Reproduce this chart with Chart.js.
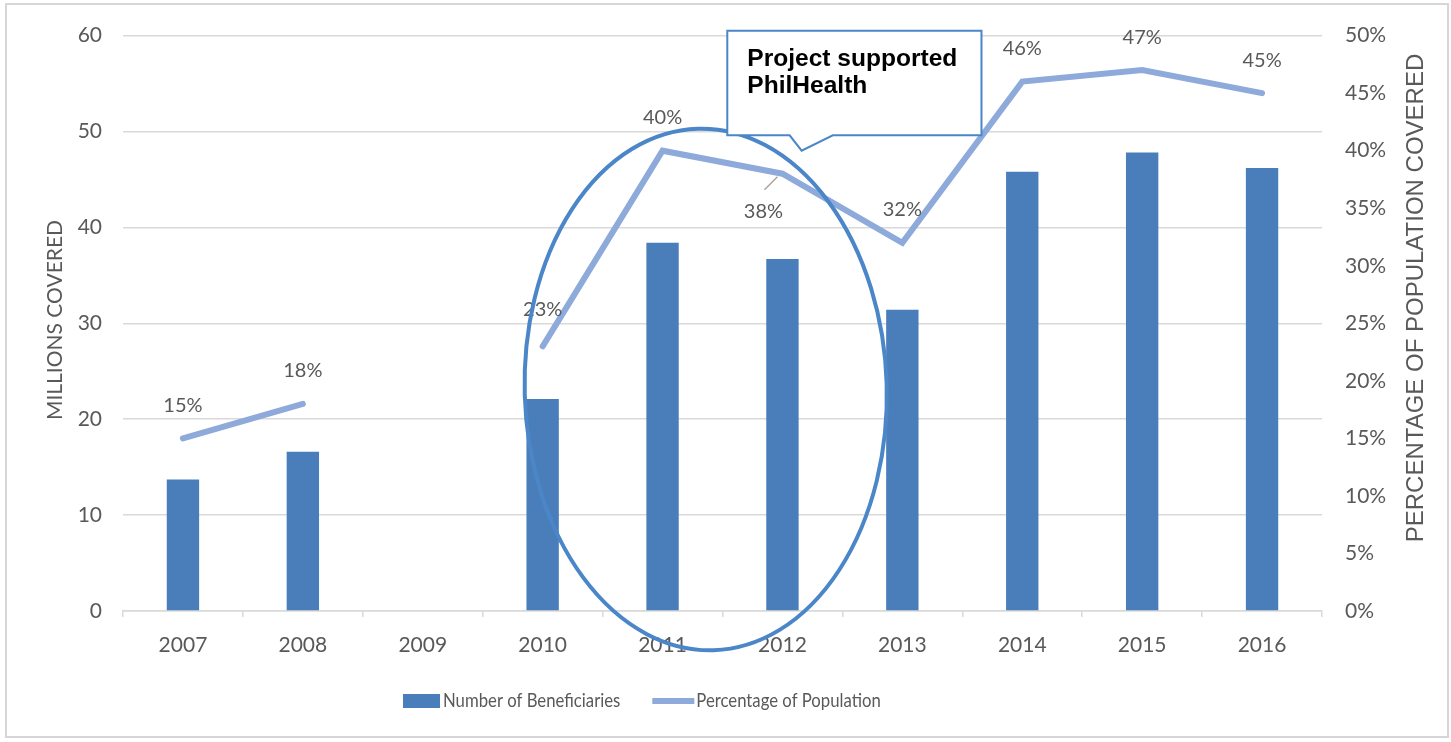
<!DOCTYPE html>
<html>
<head>
<meta charset="utf-8">
<title>PhilHealth coverage</title>
<script src="https://cdn.jsdelivr.net/npm/chart.js@4.4.1/dist/chart.umd.min.js"></script>
<style>
    body { margin: 0; background: #fff; }
    #wrap { width: 1451px; height: 742px; }
</style>
</head>
<body>
<div id="wrap"><canvas id="coverage-chart" width="1451" height="742"></canvas></div>
<script>
// Chart data
const years = ['2007', '2008', '2009', '2010', '2011', '2012', '2013', '2014', '2015', '2016'];
const beneficiaries = [13.7, 16.6, null, 22.1, 38.4, 36.7, 31.4, 45.8, 47.8, 46.2];
const populationPct = [15, 18, null, 23, 40, 38, 32, 46, 47, 45];
const leftTicks = { min: 0, max: 60, step: 10 };
const rightTicks = { min: 0, max: 50, step: 5 };
const seriesNames = ['Number of Beneficiaries', 'Percentage of Population'];
const leftTitle = 'MILLIONS COVERED';
const rightTitle = 'PERCENTAGE OF POPULATION COVERED';
const calloutLines = ['Project supported', 'PhilHealth'];

const BAR_COLOR = '#4a7ebb';
const LINE_COLOR = '#8eaadb';
const MARK_COLOR = '#4a86c8';
const TEXT_COLOR = '#595959';
const GRID_COLOR = '#d9d9d9';

Chart.defaults.font.family = 'Lato';

// Draws the data labels, the highlight ellipse, the callout, titles and legend
const overlayPlugin = {
    id: 'overlay',
    afterDatasetsDraw: function(chart) {
        const ctx = chart.ctx;
        const x = chart.scales.x;
        const y = chart.scales.y;
        const lineMeta = chart.getDatasetMeta(1);

        ctx.save();

        // percentage labels above the line points (38% sits below with a leader)
        ctx.font = '20px Lato';
        ctx.fillStyle = TEXT_COLOR;
        ctx.textAlign = 'center';
        ctx.textBaseline = 'middle';
        lineMeta.data.forEach(function(pt, i) {
            const v = populationPct[i];
            if (v === null || v === undefined) return;
            let dy = -33;
            if (i === 3) dy = -37;
            if (i === 5) {
                dy = 38;
                ctx.strokeStyle = '#b0a59a';
                ctx.lineWidth = 1.5;
                ctx.beginPath();
                ctx.moveTo(pt.x - 18, pt.y + 16);
                ctx.lineTo(pt.x - 5, pt.y + 3);
                ctx.stroke();
                ctx.fillText(v + '%', pt.x - 19, pt.y + dy);
                return;
            }
            ctx.fillText(v + '%', pt.x, pt.y + dy);
        });

        // ellipse around 2010-2012
        const cx = x.getPixelForValue(4.36);
        const cy = y.getPixelForValue(23.1);
        const rx = (x.getPixelForValue(1) - x.getPixelForValue(0)) * 1.51;
        const ry = y.getPixelForValue(0) - y.getPixelForValue(27.2);
        ctx.strokeStyle = MARK_COLOR;
        ctx.lineWidth = 4;
        ctx.beginPath();
        ctx.ellipse(cx, cy, rx, ry, -0.03, 0, Math.PI * 2);
        ctx.stroke();

        // callout box
        const bl = x.getPixelForValue(4.54), br = x.getPixelForValue(6.66);
        const bt = y.getPixelForValue(60.5), bb = y.getPixelForValue(49.6);
        const tipX = x.getPixelForValue(5.16), tipY = y.getPixelForValue(48.0);
        const baseL = x.getPixelForValue(5.06), baseR = x.getPixelForValue(5.42);
        ctx.beginPath();
        ctx.moveTo(bl, bt);
        ctx.lineTo(br, bt);
        ctx.lineTo(br, bb);
        ctx.lineTo(baseR, bb);
        ctx.lineTo(tipX, tipY);
        ctx.lineTo(baseL, bb);
        ctx.lineTo(bl, bb);
        ctx.closePath();
        ctx.fillStyle = '#fff';
        ctx.fill();
        ctx.strokeStyle = MARK_COLOR;
        ctx.lineWidth = 2;
        ctx.stroke();

        ctx.fillStyle = '#000';
        ctx.textAlign = 'left';
        ctx.textBaseline = 'alphabetic';
        ctx.font = 'bold 23px "Liberation Sans"';
        const squeeze = 210 / ctx.measureText(calloutLines[0]).width;
        ctx.save();
        ctx.translate(bl + 20, bt + 35);
        ctx.scale(squeeze, 1);
        ctx.fillText(calloutLines[0], 0, 0);
        ctx.fillText(calloutLines[1], 0, 27);
        ctx.restore();

        // axis titles
        ctx.fillStyle = TEXT_COLOR;
        ctx.textAlign = 'center';
        ctx.textBaseline = 'middle';
        ctx.save();
        ctx.translate(55, 320);
        ctx.rotate(-Math.PI / 2);
        ctx.font = '21px Lato';
        ctx.fillText(leftTitle, 0, 0);
        ctx.restore();

        ctx.save();
        ctx.translate(1416, 298);
        ctx.rotate(-Math.PI / 2);
        ctx.font = '24px "Liberation Sans"';
        ctx.fillText(rightTitle, 0, 0);
        ctx.restore();

        // legend (text a little condensed, as in the reference)
        ctx.font = '19px Lato';
        ctx.textAlign = 'left';
        const legendSqueeze = 0.88;
        let lx = 403;
        const ly = 701;
        ctx.fillStyle = BAR_COLOR;
        ctx.fillRect(lx, ly - 7, 37, 14);
        lx += 40;
        ctx.fillStyle = TEXT_COLOR;
        ctx.save();
        ctx.translate(lx, ly);
        ctx.scale(legendSqueeze, 1);
        ctx.fillText(seriesNames[0], 0, 0);
        ctx.restore();
        lx += ctx.measureText(seriesNames[0]).width * legendSqueeze + 32;
        ctx.strokeStyle = LINE_COLOR;
        ctx.lineWidth = 6;
        ctx.beginPath();
        ctx.moveTo(lx, ly);
        ctx.lineTo(lx + 42, ly);
        ctx.stroke();
        lx += 44;
        ctx.save();
        ctx.translate(lx, ly);
        ctx.scale(legendSqueeze, 1);
        ctx.fillText(seriesNames[1], 0, 0);
        ctx.restore();

        // outer frame
        ctx.strokeStyle = '#d6d6d6';
        ctx.lineWidth = 2;
        ctx.strokeRect(6, 4, 1442, 733);

        ctx.restore();
    }
};

new Chart(document.getElementById('coverage-chart'), {
    type: 'bar',
    data: {
        labels: years,
        datasets: [{
            label: seriesNames[0],
            data: beneficiaries,
            backgroundColor: BAR_COLOR,
            barPercentage: 0.27,
            categoryPercentage: 1,
            yAxisID: 'y',
            order: 1
        }, {
            type: 'line',
            label: seriesNames[1],
            data: populationPct,
            borderColor: LINE_COLOR,
            borderWidth: 6,
            borderCapStyle: 'round',
            pointRadius: 0,
            spanGaps: false,
            yAxisID: 'y1',
            order: 0
        }]
    },
    options: {
        responsive: false,
        animation: false,
        layout: { padding: { top: 35, left: 0, right: 0, bottom: 0 } },
        plugins: {
            legend: { display: false },
            tooltip: { enabled: false }
        },
        scales: {
            x: {
                grid: {
                    offset: true,
                    drawOnChartArea: false,
                    tickLength: 6,
                    color: GRID_COLOR,
                    lineWidth: 1.5
                },
                border: { color: GRID_COLOR, width: 1.5 },
                ticks: { color: TEXT_COLOR, font: { size: 21 }, padding: 16 },
                afterFit: function(scale) { scale.height = 131; }
            },
            y: {
                position: 'left',
                min: leftTicks.min,
                max: leftTicks.max,
                grid: { color: GRID_COLOR, lineWidth: 1.5, drawTicks: false },
                border: { display: false },
                ticks: { stepSize: leftTicks.step, color: TEXT_COLOR, font: { size: 21 }, padding: 21 },
                afterFit: function(scale) { scale.width = 123; }
            },
            y1: {
                position: 'right',
                min: rightTicks.min,
                max: rightTicks.max,
                grid: { display: false, drawTicks: false },
                border: { display: false },
                ticks: {
                    stepSize: rightTicks.step,
                    color: TEXT_COLOR,
                    font: { size: 21 },
                    padding: 23,
                    callback: function(v) { return v + '%'; }
                },
                afterFit: function(scale) { scale.width = 129; }
            }
        }
    },
    plugins: [overlayPlugin]
});
</script>
</body>
</html>
